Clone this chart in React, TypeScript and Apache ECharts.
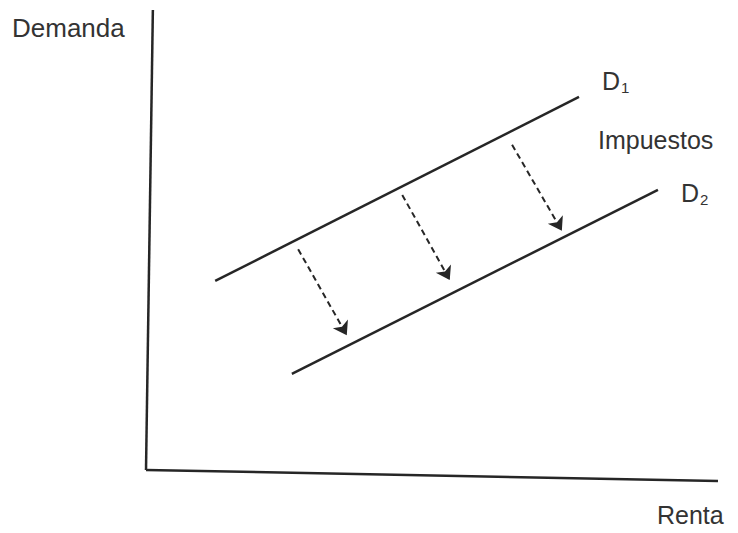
import React, { useEffect, useRef } from "react";
import * as echarts from "echarts";

// Data space: Renta (x) 0–100, Demanda (y) 0–100
const axisY: number[][] = [[0, 0], [1.2, 100]];
const axisX: number[][] = [[0, 0], [100, -2.4]];
const demand1: number[][] = [[12.1, 41.1], [75.7, 81.1]];
const demand2: number[][] = [[25.5, 20.9], [89.5, 60.9]];
const taxArrows: number[][][] = [
  [[26.6, 48.0], [35.1, 29.3]],
  [[44.8, 59.8], [53.1, 41.3]],
  [[64.0, 70.7], [72.7, 52.0]],
];
const xName = "Renta";
const yName = "Demanda";
const arrowLabel = "Impuestos";
const curveNames = ["{m|D}{s|1}", "{m|D}{s|2}"];

const FONT = "'Liberation Sans', Arial, sans-serif";
const INK = "#262626";
const TXT = "#333333";

export default function App() {
  const ref = useRef<HTMLDivElement>(null);
  useEffect(() => {
    if (!ref.current) return;
    const chart = echarts.init(ref.current, undefined, { renderer: "svg" });
    const solid = (data: number[][]) => ({
      type: "line",
      data,
      symbol: "none",
      clip: false,
      lineStyle: { color: INK, width: 2.5 },
    });
    const rich = {
      m: { font: `25px ${FONT}`, fill: TXT },
      s: { font: `15px ${FONT}`, fill: TXT, padding: [14, 0, 0, 1] },
    };
    chart.setOption({
      animation: false,
      backgroundColor: "#ffffff",
      grid: { left: 146, right: 20, top: 10, bottom: 52 },
      xAxis: { type: "value", min: 0, max: 100, show: false },
      yAxis: { type: "value", min: -2.4, max: 100, show: false },
      series: [
        solid(axisY),
        solid(axisX),
        solid(demand1),
        solid(demand2),
        {
          type: "lines",
          coordinateSystem: "cartesian2d",
          symbol: ["none", "arrow"],
          symbolSize: [9, 13],
          lineStyle: { color: INK, width: 2, type: [6, 4], opacity: 1 },
          data: taxArrows.map((c) => ({ coords: c })),
        },
      ],
      graphic: [
        {
          type: "text",
          left: 12,
          top: 15,
          style: { text: yName, font: `26px ${FONT}`, fill: TXT },
        },
        {
          type: "text",
          left: 657,
          top: 502,
          style: { text: xName, font: `25px ${FONT}`, fill: TXT },
        },
        {
          type: "text",
          left: 598,
          top: 127,
          style: { text: arrowLabel, font: `25px ${FONT}`, fill: TXT },
        },
        {
          type: "text",
          left: 602,
          top: 68,
          style: { text: curveNames[0], rich },
        },
        {
          type: "text",
          left: 681,
          top: 180,
          style: { text: curveNames[1], rich },
        },
      ],
    });
    return () => chart.dispose();
  }, []);
  return <div ref={ref} style={{ width: 738, height: 533, margin: -8 }} />;
}
